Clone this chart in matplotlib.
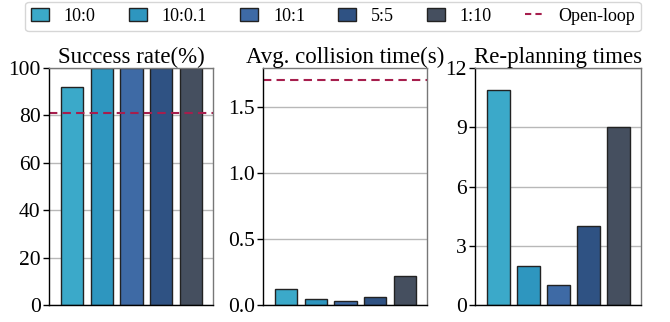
import matplotlib
matplotlib.use("Agg")
import matplotlib.pyplot as plt
from matplotlib.patches import Patch
from matplotlib.lines import Line2D

plt.rcParams['font.family'] = ['Liberation Serif', 'DejaVu Serif']

categories = ["10:0", "10:0.1", "10:1", "5:5", "1:10"]
colors = ["#3BA9C9", "#2E96BF", "#3E6AA5", "#2F5283", "#454F5F"]
success_rate = [92, 100, 100, 100, 100]
collision_time = [0.118, 0.042, 0.027, 0.063, 0.217]
replanning = [10.9, 2, 1, 4, 9]
openloop_success = 81
openloop_collision = 1.71
open_color = "#A61E4D"

titles = ["Success rate(%)", "Avg. collision time(s)", "Re-planning times"]
datas = [success_rate, collision_time, replanning]
ylims = [(0, 100), (0, 1.8), (0, 12)]
yticks = [[0, 20, 40, 60, 80, 100], [0.0, 0.5, 1.0, 1.5], [0, 3, 6, 9, 12]]
yticklabels = [["0", "20", "40", "60", "80", "100"],
               ["0.0", "0.5", "1.0", "1.5"],
               ["0", "3", "6", "9", "12"]]
openloops = [openloop_success, openloop_collision, None]

fig = plt.figure(figsize=(6.7, 3.22), dpi=100)
W, H = 670, 322
rects = [(49, 213), (263, 427), (475, 641)]
top, bottom = 68, 305

for i, (x0, x1) in enumerate(rects):
    ax = fig.add_axes([x0 / W, (H - bottom) / H, (x1 - x0) / W, (bottom - top) / H])
    ax.set_axisbelow(True)
    ax.grid(axis='y', color='#b8b8b8', linewidth=1.0)
    xs = list(range(len(categories)))
    ax.bar(xs, datas[i], width=0.75, color=colors, edgecolor='#222222', linewidth=1.0)
    if openloops[i] is not None:
        ax.axhline(openloops[i], color=open_color, linestyle='--', linewidth=1.5, dashes=(4, 2.5))
    ax.set_xlim(-0.78, 4.75)
    ax.set_ylim(*ylims[i])
    ax.set_yticks(yticks[i])
    ax.set_yticklabels(yticklabels[i])
    ax.set_xticks([])
    ax.tick_params(axis='y', labelsize=15.5, length=4, width=1, pad=2)
    ax.set_title(titles[i], fontsize=16.5, pad=2)
    for s in ['left', 'bottom']:
        ax.spines[s].set_color('black')
        ax.spines[s].set_linewidth(1.0)
    for s in ['top', 'right']:
        ax.spines[s].set_color('#777777')
        ax.spines[s].set_linewidth(1.0)

handles = [Patch(facecolor=c, edgecolor='#222222', linewidth=1.0) for c in colors]
handles.append(Line2D([0], [0], color=open_color, linestyle='--', linewidth=1.5, dashes=(3, 2)))
labels = categories + ["Open-loop"]
fig.legend(handles, labels, loc='upper center', bbox_to_anchor=(0.497, 0.995), ncol=6,
           fontsize=13, frameon=True, fancybox=True, edgecolor='#cccccc',
           handlelength=1.0, handleheight=0.75, columnspacing=1.85, handletextpad=0.8,
           borderpad=0.35, borderaxespad=0.0)

fig.savefig("out.png", dpi=100)
